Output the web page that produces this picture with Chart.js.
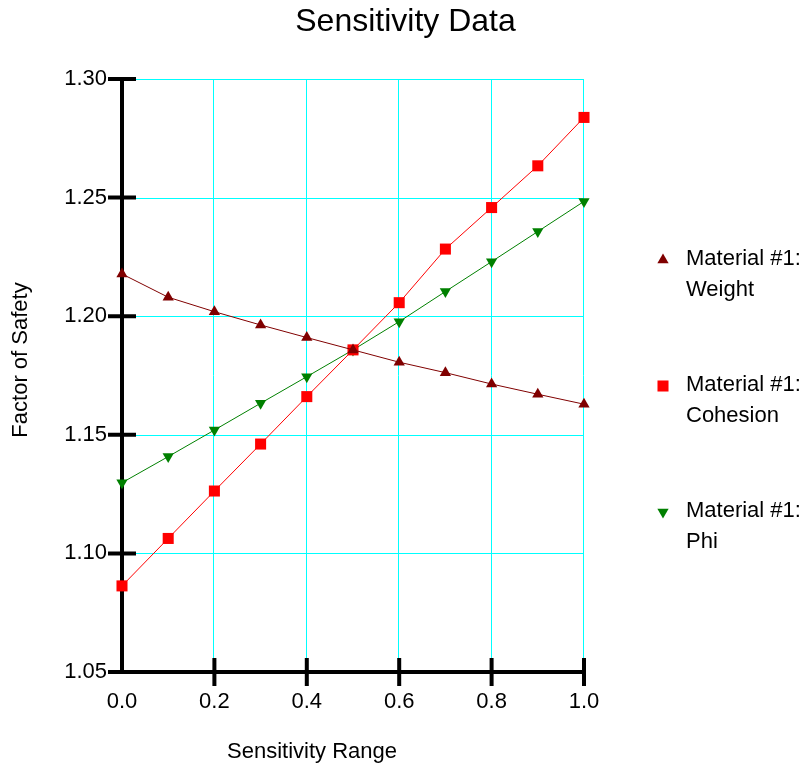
<!DOCTYPE html>
<html>
<head>
<meta charset="utf-8">
<title>Sensitivity Data</title>
<script src="https://cdn.jsdelivr.net/npm/chart.js@4.4.1/dist/chart.umd.min.js"></script>
<style>
  body { margin: 0; background: #fff; }
  #wrap { width: 811px; height: 765px; }
</style>
</head>
<body>
<div id="wrap"><canvas id="chart1" width="811" height="765"></canvas></div>
<script>
// Sensitivity Data
const sensitivityRange = [0.0, 0.1, 0.2, 0.3, 0.4, 0.5, 0.6, 0.7, 0.8, 0.9, 1.0];
const weightFs   = [1.2178, 1.2080, 1.2019, 1.1963, 1.1910, 1.1858, 1.1806, 1.1762, 1.1714, 1.1671, 1.1629];
const cohesionFs = [1.0863, 1.1063, 1.1263, 1.1461, 1.1661, 1.1858, 1.2057, 1.2283, 1.2458, 1.2634, 1.2838];
const phiFs      = [1.1298, 1.1408, 1.1520, 1.1633, 1.1745, 1.1858, 1.1977, 1.2104, 1.2230, 1.2357, 1.2484];
const seriesLabels = [['Material #1:', 'Weight'], ['Material #1:', 'Cohesion'], ['Material #1:', 'Phi']];
const xTitle = 'Sensitivity Range';
const yTitle = 'Factor of Safety';

const FONT = "'Liberation Sans', Arial, sans-serif";
Chart.defaults.font.family = FONT;
Chart.defaults.color = '#000';

function toPoints(ys) {
    return sensitivityRange.map((x, i) => ({ x: x, y: ys[i] }));
}

function makeSet(i, ys, color, style, radius, rotation) {
    return {
        label: seriesLabels[i].join(' '),
        data: toPoints(ys),
        borderColor: color,
        backgroundColor: color,
        borderWidth: 1,
        pointStyle: style,
        pointRadius: radius,
        pointRotation: rotation,
        pointBorderWidth: 0,
        pointBackgroundColor: color,
        showLine: true,
        clip: false,
        tension: 0
    };
}

// cyan grid, drawn before the scales so the black axes sit on top
const cyanGrid = {
    id: 'cyanGrid',
    beforeDraw(chart) {
        const { ctx, chartArea, scales } = chart;
        ctx.save();
        ctx.strokeStyle = '#00ffff';
        ctx.lineWidth = 1;
        ctx.beginPath();
        scales.y.ticks.forEach(t => {
            const py = Math.round(scales.y.getPixelForValue(t.value)) + 0.5;
            ctx.moveTo(chartArea.left, py);
            ctx.lineTo(chartArea.right, py);
        });
        scales.x.ticks.forEach(t => {
            const px = Math.round(scales.x.getPixelForValue(t.value)) - 0.5;
            ctx.moveTo(px, chartArea.top);
            ctx.lineTo(px, chartArea.bottom);
        });
        ctx.stroke();
        ctx.restore();
    }
};

// crossing tick marks on both axes
const axisTicks = {
    id: 'axisTicks',
    beforeDatasetsDraw(chart) {
        const { ctx, chartArea, scales } = chart;
        ctx.save();
        ctx.strokeStyle = '#000';
        ctx.lineWidth = 4;
        ctx.beginPath();
        scales.y.ticks.forEach(t => {
            const py = scales.y.getPixelForValue(t.value);
            ctx.moveTo(chartArea.left - 14, py);
            ctx.lineTo(chartArea.left + 14, py);
        });
        scales.x.ticks.forEach(t => {
            if (t.value === 0) return;
            const px = scales.x.getPixelForValue(t.value);
            ctx.moveTo(px, chartArea.bottom - 14);
            ctx.lineTo(px, chartArea.bottom + 14);
        });
        ctx.stroke();
        ctx.restore();
    }
};

// axis titles and two-line legend on the right
const sideText = {
    id: 'sideText',
    afterDraw(chart) {
        const { ctx, chartArea } = chart;
        ctx.save();
        ctx.fillStyle = '#000';
        ctx.font = '22px ' + FONT;
        ctx.textAlign = 'center';
        ctx.textBaseline = 'middle';
        ctx.fillText(xTitle, chartArea.left + 190, 752);

        ctx.save();
        ctx.translate(21, 360);
        ctx.rotate(-Math.PI / 2);
        ctx.fillText(yTitle, 0, 0);
        ctx.restore();

        ctx.textAlign = 'left';
        chart.data.datasets.forEach((ds, i) => {
            const y0 = 259 + i * 126;
            ctx.fillStyle = ds.backgroundColor;
            Chart.helpers.drawPoint(ctx, {
                pointStyle: ds.pointStyle,
                rotation: ds.pointRotation,
                radius: ds.pointStyle === 'rect' ? 7.8 : 6.5,
                borderWidth: 0
            }, chartArea.right + 79, y0 + 1);
            ctx.fillStyle = '#000';
            ctx.fillText(seriesLabels[i][0], chartArea.right + 102, y0);
            ctx.fillText(seriesLabels[i][1], chartArea.right + 102, y0 + 31);
        });
        ctx.restore();
    }
};

function drawChart1() {
    const ctx = document.getElementById('chart1').getContext('2d');
    const chart1 = new Chart(ctx, {
        type: 'scatter',
        data: {
            datasets: [
                makeSet(0, weightFs, '#800000', 'triangle', 6.5, 0),
                makeSet(1, cohesionFs, '#ff0000', 'rect', 7.8, 0),
                makeSet(2, phiFs, '#008000', 'triangle', 6.5, 180)
            ]
        },
        options: {
            responsive: false,
            animation: false,
            layout: { padding: { left: 0, right: 0, top: 0, bottom: 0 } },
            plugins: {
                legend: { display: false },
                tooltip: { enabled: false },
                title: {
                    display: true,
                    text: 'Sensitivity Data',
                    color: '#000',
                    font: { size: 32, weight: 'normal' },
                    padding: { top: 3, bottom: 37.6 }
                }
            },
            scales: {
                x: {
                    type: 'linear',
                    min: 0,
                    max: 1,
                    afterFit(scale) { scale.height = 93; },
                    ticks: {
                        stepSize: 0.2,
                        padding: 17,
                        font: { size: 22 },
                        color: '#000',
                        callback: v => Number(v).toFixed(1)
                    },
                    grid: { display: false, drawTicks: false },
                    border: { color: '#000', width: 4 }
                },
                y: {
                    min: 1.05,
                    max: 1.30,
                    afterFit(scale) { scale.width = 122; },
                    ticks: {
                        stepSize: 0.05,
                        padding: 15,
                        font: { size: 22 },
                        color: '#000',
                        callback: v => Number(v).toFixed(2)
                    },
                    grid: { display: false, drawTicks: false },
                    border: { color: '#000', width: 4 }
                },
                yRight: {
                    position: 'right',
                    afterFit(scale) { scale.width = 227; },
                    ticks: { display: false },
                    grid: { display: false },
                    border: { display: false }
                }
            }
        },
        plugins: [cyanGrid, axisTicks, sideText]
    });
}

drawChart1();
</script>
</body>
</html>
